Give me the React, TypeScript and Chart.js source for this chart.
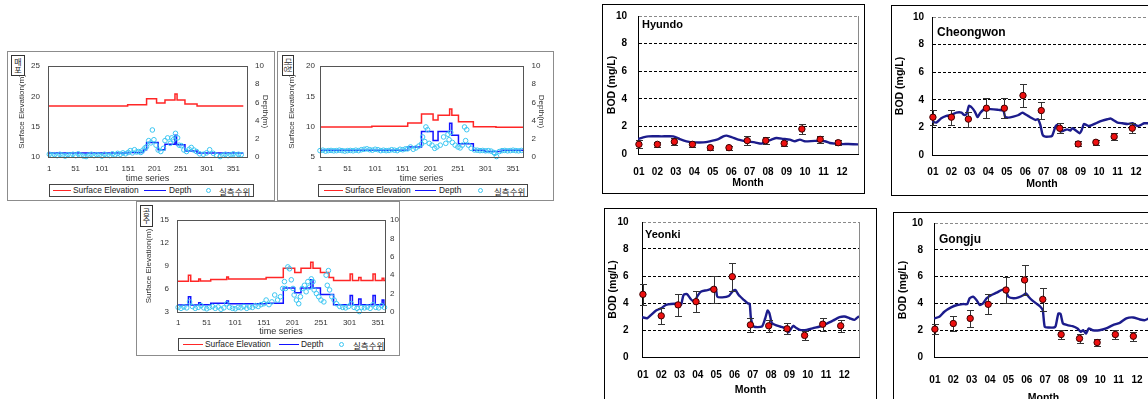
import React, { useEffect, useRef } from "react";
import { Chart, registerables } from "chart.js";

Chart.register(...registerables);

const FONT = "'Liberation Sans', Arial, Helvetica, sans-serif";
const KFONT = "'Noto Sans CJK KR', 'Liberation Sans', sans-serif";
Chart.defaults.font.family = FONT;
Chart.defaults.color = "#333";

/* ================= Hydrology panels (daily series) ================= */
const xTickDays = [1, 51, 101, 151, 201, 251, 301, 351];
const legendLabels = ["Surface Elevation", "Depth", "실측수위"];
const timeAxisTitle = "time series";
const elevAxisTitle = "Surface Elevation(m)";
const depthAxisTitle = "Depth(m)";

// 매포
const maepoElevDay = [0, 150, 186, 205, 221, 240, 244, 259, 282, 370];
const maepoElev = [18.4, 18.6, 19.6, 18.9, 19.4, 20.4, 19.4, 18.75, 18.4, 18.4];
const maepoDepthDay = [0, 150, 180, 186, 208, 221, 240, 243, 259, 282, 370];
const maepoDepth = [0.45, 0.5, 0.8, 1.6, 0.8, 1.4, 2.4, 1.35, 0.65, 0.45, 0.45];
const maepoObsDay = [
  1, 6, 11, 16, 21, 26, 31, 36, 41, 46, 51, 56, 61, 66, 71, 76, 81, 86, 91, 96, 101, 106, 111, 116, 121, 126, 131, 136, 141, 146,
  151, 155, 159, 163, 167, 171, 175, 179, 183,
  186, 190, 194, 197, 200, 204, 208, 213, 218, 221, 226, 231, 234, 237, 241, 245, 248, 252, 257, 262, 267, 271, 276, 281, 287, 294, 300, 306, 313, 319, 326,
  331, 336, 341, 346, 351, 356, 361, 366,
];
const maepoObs = [
  0.3, 0.2, 0.25, 0.15, 0.3, 0.2, 0.1, 0.25, 0.2, 0.3, 0.15, 0.35, 0.2, 0.1, 0.05, 0.2, 0.3, 0.15, 0.25, 0.2, 0.1, 0.3, 0.2, 0.15, 0.35, 0.25, 0.4, 0.3, 0.45, 0.35,
  0.5, 0.7, 0.45, 0.8, 0.55, 0.6, 0.5, 0.75, 1.0,
  1.13, 1.8, 1.55, 2.97, 1.9, 1.3, 0.77, 0.6, 0.95, 1.8, 2.1, 1.5, 2.1, 1.9, 2.6, 2.1, 1.3, 1.25, 0.77, 0.6, 0.85, 1.05, 0.77, 0.6, 0.35, 0.3, 0.45, 0.8, 0.4, 0.2, 0.05,
  0.2, 0.3, 0.15, 0.25, 0.35, 0.2, 0.3, 0.25,
];

// 대청
const daecheongElevDay = [0, 95, 160, 185, 206, 215, 236, 240, 252, 279, 320, 370];
const daecheongElev = [9.95, 10.05, 10.6, 12.1, 11.1, 11.9, 12.9, 11.9, 10.8, 10.0, 9.9, 9.9];
const daecheongDepthDay = [0, 160, 185, 206, 215, 236, 240, 252, 279, 300, 330, 370];
const daecheongDepth = [0.75, 1.1, 2.8, 1.8, 2.8, 3.7, 2.4, 1.45, 0.75, 0.6, 0.75, 0.75];
const daecheongObsDay = [
  1, 6, 11, 16, 21, 26, 31, 36, 41, 46, 51, 56, 61, 66, 71, 76, 81, 86, 91, 96, 101, 106, 111, 116, 121, 126, 131, 136, 141, 146, 151, 156,
  160, 165, 170, 175, 180,
  185, 187, 191, 193, 196, 199, 204, 209, 213, 219, 225, 229, 233, 235, 238, 241, 246, 251, 255, 259, 263, 265, 267, 270, 275, 281,
  286, 291, 296, 301, 306, 311, 316, 318, 321, 326, 331, 336, 341, 346, 351, 356, 361, 366,
];
const daecheongObs = [
  0.7, 0.75, 0.65, 0.7, 0.72, 0.68, 0.7, 0.75, 0.7, 0.65, 0.7, 0.72, 0.68, 0.75, 0.7, 0.8, 0.85, 0.9, 0.8, 0.75, 0.85, 0.8, 0.7, 0.75, 0.7, 0.72, 0.8, 0.75, 0.7, 0.85, 0.8, 0.9,
  0.9, 1.1, 0.85, 1.0, 1.2,
  1.43, 2.2, 1.7, 3.3, 3.0, 1.5, 1.3, 0.95, 1.1, 1.3, 2.2, 1.5, 2.5, 1.9, 2.7, 1.6, 1.3, 1.1, 1.0, 1.3, 3.3, 1.8, 3.0, 1.3, 0.95, 0.77,
  0.75, 0.7, 0.72, 0.68, 0.7, 0.65, 0.5, 0.4, 0.05, 0.6, 0.7, 0.72, 0.68, 0.7, 0.75, 0.7, 0.68, 0.72,
];

// 공주
const gongjuElevDay = [0, 19, 23, 37, 40, 58, 86, 89, 155, 185, 205, 216, 233, 237, 250, 265, 273, 302, 306, 317, 321, 342, 346, 358, 361, 366];
const gongjuElev = [7.0, 7.8, 7.0, 7.3, 7.05, 7.25, 7.55, 7.3, 7.5, 8.7, 8.15, 8.7, 9.5, 8.7, 8.15, 7.5, 7.1, 7.95, 7.1, 7.5, 7.1, 7.95, 7.1, 7.4, 7.1, 7.1];
const gongjuDepthDay = [0, 19, 23, 37, 40, 58, 86, 89, 155, 185, 205, 216, 233, 237, 250, 273, 302, 306, 317, 321, 342, 346, 358, 361, 366];
const gongjuDepth = [0.75, 1.65, 0.75, 1.0, 0.8, 0.95, 1.2, 0.9, 0.95, 2.6, 2.1, 2.6, 3.5, 2.6, 1.9, 0.8, 1.8, 0.8, 1.4, 0.8, 1.8, 0.8, 1.3, 0.8, 0.8];
const gongjuObsDay = [
  1, 6, 11, 16, 21, 26, 31, 36, 41, 46, 51, 56, 61, 66, 71, 76, 81, 86, 91, 96, 101, 106, 111, 116, 121, 126, 131, 136, 141, 146,
  151, 155, 160, 165, 170, 175, 180,
  184, 187, 189, 193, 196, 199, 202, 204, 208, 212, 215, 218, 222, 225, 228, 231, 234, 237, 239, 243, 247, 251, 256, 260, 262, 264, 266, 270, 274, 278, 284,
  289, 294, 299, 304, 309, 314, 318, 322, 327, 332, 337, 342, 347, 352, 357, 362,
];
const gongjuObs = [
  0.5, 0.4, 0.55, 0.45, 1.1, 0.6, 0.4, 0.5, 0.7, 0.45, 0.35, 0.5, 0.6, 0.4, 0.55, 0.3, 0.45, 0.9, 0.5, 0.4, 0.35, 0.5, 0.45, 0.6, 0.4, 0.55, 0.5, 0.7, 0.6, 0.8,
  0.9, 1.3, 0.8, 1.1, 1.85, 1.3, 1.66,
  2.56, 3.3, 2.56, 4.9, 4.7, 3.5, 2.56, 1.85, 1.3, 0.9, 1.66, 2.56, 2.9, 2.2, 3.3, 2.7, 3.6, 3.3, 2.4, 2.0, 1.66, 1.3, 1.1, 4.0, 2.9, 4.5, 2.4, 1.66, 1.3, 0.9, 0.6,
  0.5, 0.45, 0.6, 0.9, 0.5, 0.4, 0.05, 0.5, 0.45, 0.55, 0.4, 0.8, 0.5, 0.45, 0.7, 0.5,
];

/* ================= BOD panels (monthly) ================= */
const monthLabels = ["01", "02", "03", "04", "05", "06", "07", "08", "09", "10", "11", "12"];
const monthTicks = [0, 1, 2, 3, 4, 5, 6, 7, 8, 9, 10, 11];
const sampleMonth = [0.0, 1.0, 1.92, 2.9, 3.87, 4.88, 5.87, 6.87, 7.87, 8.83, 9.82, 10.8];
const bodAxisTitle = "BOD (mg/L)";
const monthAxisTitle = "Month";

const hyundoObs = [0.7, 0.7, 0.89, 0.7, 0.46, 0.46, 0.97, 0.97, 0.77, 1.81, 1.06, 0.82];
const hyundoErr = [0.28, 0.18, 0.25, 0.2, 0.15, 0.15, 0.3, 0.27, 0.18, 0.36, 0.24, 0.2];
const hyundoModelX = [-0.05, 0.23, 0.51, 1.23, 1.86, 2.22, 2.58, 3.03, 3.48, 3.84, 4.3, 4.57, 4.75, 5.02, 5.38, 5.83, 6.28, 6.64, 6.91, 7.18, 7.45, 7.82, 8.18, 8.45, 8.72, 8.99, 9.53, 10.07, 10.34, 10.61, 10.97, 11.34, 11.88];
const hyundoModelY = [1.08, 1.2, 1.28, 1.28, 1.28, 1.08, 0.92, 0.84, 0.84, 0.92, 1.08, 1.28, 1.33, 1.23, 1.04, 0.92, 0.84, 0.75, 0.92, 1.04, 1.16, 1.1, 1.04, 0.92, 1.04, 0.92, 0.95, 0.92, 0.8, 0.75, 0.72, 0.72, 0.7];

const cheongwonObs = [2.74, 2.74, 2.6, 3.39, 3.39, 4.31, 3.22, 1.94, 0.8, 0.92, 1.33, 1.94];
const cheongwonErr = [0.55, 0.55, 0.55, 0.72, 0.72, 0.85, 0.63, 0.35, 0.18, 0.2, 0.24, 0.36];
const cheongwonModelX = [-0.05, 0.18, 0.45, 0.73, 1.0, 1.27, 1.55, 1.69, 1.82, 1.95, 2.09, 2.27, 2.42, 2.55, 2.73, 2.91, 3.55, 3.82, 3.91, 4.09, 4.36, 4.64, 4.85, 5.0, 5.27, 5.55, 5.69, 5.82, 5.95, 6.09, 6.27, 6.45, 6.64, 6.73, 6.91, 7.09, 7.27, 7.45, 7.55, 7.82, 7.95, 8.05, 8.18, 8.31, 8.45, 8.64, 8.91, 9.18, 9.45, 9.64, 9.76, 10.0, 10.27, 10.55, 10.82, 11.09, 11.27, 11.45, 11.76, 11.95];
const cheongwonModelY = [2.42, 2.35, 2.66, 2.83, 2.9, 3.07, 3.07, 2.9, 2.95, 3.56, 3.46, 3.15, 2.74, 3.03, 3.27, 3.34, 3.27, 3.22, 2.78, 2.71, 2.78, 2.9, 3.07, 2.95, 2.74, 2.54, 2.6, 2.18, 1.45, 1.33, 1.33, 1.38, 2.06, 2.18, 1.7, 1.77, 1.86, 1.77, 1.94, 1.7, 1.57, 1.77, 2.25, 2.18, 2.1, 2.18, 2.35, 2.49, 2.59, 2.64, 2.54, 2.35, 2.3, 2.25, 2.3, 2.1, 2.18, 2.3, 2.3, 2.3];

const yeonkiObs = [4.64, 3.05, 3.86, 4.1, 5.01, 5.95, 2.38, 2.31, 2.09, 1.6, 2.43, 2.31];
const yeonkiErr = [0.8, 0.57, 0.8, 0.8, 1.0, 1.05, 0.5, 0.45, 0.42, 0.32, 0.47, 0.45];
const yeonkiModelX = [-0.05, 0.23, 0.45, 0.72, 0.99, 1.26, 1.53, 1.9, 2.08, 2.22, 2.4, 2.62, 2.8, 2.98, 3.16, 3.52, 3.79, 3.97, 4.06, 4.33, 4.69, 4.93, 5.05, 5.23, 5.51, 5.72, 5.83, 5.9, 6.05, 6.5, 6.68, 6.81, 6.91, 7.04, 7.22, 7.49, 7.76, 7.94, 8.07, 8.21, 8.39, 8.57, 8.94, 9.3, 9.66, 10.02, 10.38, 10.74, 11.01, 11.28, 11.55, 11.73, 11.88];
const yeonkiModelY = [2.95, 2.87, 3.12, 3.44, 3.61, 3.86, 3.93, 3.93, 3.86, 4.6, 4.67, 4.28, 4.1, 4.52, 4.84, 4.96, 5.09, 5.16, 4.47, 4.42, 4.52, 4.91, 4.96, 4.59, 4.23, 3.98, 3.93, 2.87, 2.26, 2.26, 2.87, 3.44, 3.24, 2.51, 2.38, 2.26, 2.14, 1.82, 2.06, 2.31, 2.14, 2.01, 2.01, 2.14, 2.26, 2.46, 2.7, 2.95, 3.0, 2.87, 2.75, 2.95, 3.0];

const gongjuBodObs = [2.08, 2.5, 2.88, 3.93, 5.0, 5.75, 4.3, 1.68, 1.38, 1.08, 1.68, 1.55];
const gongjuBodErr = [0.38, 0.55, 0.62, 0.75, 1.0, 1.12, 0.85, 0.35, 0.3, 0.24, 0.35, 0.33];
const gongjuModelX = [-0.05, 0.24, 0.51, 0.88, 1.21, 1.52, 1.76, 1.89, 2.07, 2.26, 2.44, 2.62, 2.81, 3.08, 3.36, 3.63, 3.82, 4.0, 4.28, 4.55, 4.83, 4.95, 5.1, 5.28, 5.56, 5.74, 5.87, 5.98, 6.2, 6.48, 6.57, 6.72, 6.84, 6.97, 7.21, 7.49, 7.76, 7.94, 8.07, 8.22, 8.37, 8.59, 8.95, 9.32, 9.69, 10.06, 10.42, 10.79, 11.16, 11.43, 11.74, 11.95];
const gongjuModelY = [2.88, 3.0, 3.38, 3.7, 3.88, 3.95, 3.95, 4.38, 4.5, 4.25, 3.88, 4.0, 4.38, 4.63, 4.8, 5.0, 5.05, 4.5, 4.38, 4.45, 4.63, 4.75, 4.5, 4.25, 3.95, 3.75, 3.5, 2.25, 2.2, 2.2, 2.3, 3.25, 3.2, 2.5, 2.38, 2.3, 2.13, 1.88, 2.0, 1.75, 2.13, 2.0, 2.0, 2.13, 2.38, 2.55, 2.88, 2.95, 2.8, 2.75, 2.95, 2.95];

/* ================= helpers ================= */
const zip = (xs: number[], ys: number[]) => xs.map((x, i) => ({ x, y: ys[i] }));

const framePlugin = {
  id: "frameBox",
  afterDatasetsDraw(chart: any) {
    const { ctx, chartArea: a } = chart;
    ctx.save();
    ctx.strokeStyle = "#555";
    ctx.lineWidth = 1;
    ctx.strokeRect(Math.round(a.left) + 0.5, Math.round(a.top) + 0.5, Math.round(a.right - a.left), Math.round(a.bottom - a.top));
    ctx.restore();
  },
};

const rightEdgePlugin = {
  id: "rightEdge",
  afterDraw(chart: any) {
    const { ctx, chartArea: a } = chart;
    ctx.save();
    ctx.strokeStyle = "#8a8a8a";
    ctx.lineWidth = 1;
    const x = Math.round(a.right) + 0.5;
    ctx.beginPath();
    ctx.moveTo(x, a.top);
    ctx.lineTo(x, a.bottom);
    ctx.stroke();
    ctx.restore();
  },
};

function makeErrorBars(xs: number[], ys: number[], errs: number[]) {
  return {
    id: "errorBars",
    afterDatasetDraw(chart: any, args: any) {
      if (args.index !== 1) return;
      const sx = chart.scales.x;
      const sy = chart.scales.y;
      const ctx = chart.ctx;
      ctx.save();
      ctx.strokeStyle = "#333";
      ctx.lineWidth = 1;
      ctx.beginPath();
      for (let i = 0; i < xs.length; i++) {
        const px = Math.round(sx.getPixelForValue(xs[i])) + 0.5;
        const t = Math.round(sy.getPixelForValue(ys[i] + errs[i])) + 0.5;
        const b = Math.round(sy.getPixelForValue(ys[i] - errs[i])) + 0.5;
        ctx.moveTo(px, t);
        ctx.lineTo(px, b);
        ctx.moveTo(px - 3.5, t);
        ctx.lineTo(px + 3.5, t);
        ctx.moveTo(px - 3.5, b);
        ctx.lineTo(px + 3.5, b);
      }
      ctx.stroke();
      ctx.restore();
    },
  };
}

// fix an axis box size and drop Chart.js' label-overhang padding so the plot area is exact
const fixW = (w: number) => (s: any) => { s.width = w; s.paddingTop = 0; s.paddingBottom = 0; };
const fixH = (h: number) => (s: any) => { s.height = h; s.paddingLeft = 0; s.paddingRight = 0; };

function ChartCanvas({ box, make }: any) {
  const ref = useRef<HTMLCanvasElement>(null);
  useEffect(() => {
    const c = new Chart(ref.current as HTMLCanvasElement, make());
    return () => c.destroy();
  }, []);
  return (
    <canvas
      ref={ref}
      width={box.w}
      height={box.h}
      style={{ position: "absolute", left: box.l, top: box.t, width: box.w, height: box.h }}
    />
  );
}

/* ================= hydrology panel ================= */
const hydroPanels = [
  {
    key: "maepo", name: "매포", rotateName: false,
    border: { l: 7, t: 51, w: 268, h: 150 },
    canvas: { l: 9, t: 52, w: 265, h: 147 },
    padTop: 14, yW: 39, y1W: 27, xH: 42, xMin: -1.5, xMax: 377,
    yMin: 10, yMax: 25, yStep: 5,
    yTickPad: 8, y1TickPad: 8, xTickPad: 7, xTitlePad: 15.5, yTitlePad: 7.5, y1TitlePad: 4, showY1Title: true,
    nameBox: { l: 11, t: 55, w: 14, h: 21 },
    legend: { l: 49, t: 184, w: 205, h: 13, r: [3, 21], t0: 23, b: [94, 116], t1: 119, c: 158, t2: 169 },
    elevDay: maepoElevDay, elev: maepoElev, depthDay: maepoDepthDay, depth: maepoDepth, obsDay: maepoObsDay, obs: maepoObs,
  },
  {
    key: "daecheong", name: "대청", rotateName: true,
    border: { l: 277, t: 51, w: 277, h: 150 },
    canvas: { l: 278, t: 52, w: 275, h: 147 },
    padTop: 14, yW: 42, y1W: 30, xH: 42, xMin: 1, xMax: 369,
    yMin: 5, yMax: 20, yStep: 5,
    yTickPad: 5, y1TickPad: 8.5, xTickPad: 6.5, xTitlePad: 15.3, yTitlePad: 8.7, y1TitlePad: 6.5, showY1Title: true,
    nameBox: { l: 282, t: 55, w: 12, h: 21 },
    legend: { l: 318, t: 184, w: 210, h: 13, r: [5, 24], t0: 26, b: [96, 117], t1: 120, c: 161, t2: 175 },
    elevDay: daecheongElevDay, elev: daecheongElev, depthDay: daecheongDepthDay, depth: daecheongDepth, obsDay: daecheongObsDay, obs: daecheongObs,
  },
  {
    key: "gongju", name: "공주", rotateName: false,
    border: { l: 136, t: 201, w: 264, h: 155 },
    canvas: { l: 137, t: 202, w: 262, h: 152 },
    padTop: 18, yW: 40, y1W: 14, xH: 42, xMin: -1, xMax: 363,
    yMin: 3, yMax: 15, yStep: 3,
    yTickPad: 8, y1TickPad: 5, xTickPad: 6, xTitlePad: 17, yTitlePad: 6.7, y1TitlePad: 0, showY1Title: false,
    nameBox: { l: 140, t: 205, w: 13, h: 22 },
    legend: { l: 178, t: 338, w: 207, h: 13, r: [4, 24], t0: 26, b: [100, 120], t1: 122, c: 162, t2: 174 },
    elevDay: gongjuElevDay, elev: gongjuElev, depthDay: gongjuDepthDay, depth: gongjuDepth, obsDay: gongjuObsDay, obs: gongjuObs,
  },
];

function hydroConfig(p: any) {
  const tickFont = { size: 8, family: FONT };
  return {
    type: "line",
    data: {
      datasets: [
        {
          label: legendLabels[2], data: zip(p.obsDay, p.obs), yAxisID: "y1", showLine: false,
          pointRadius: 2.3, pointBorderWidth: 1, pointBorderColor: "#3cc6f2", pointBackgroundColor: "rgba(255,255,255,0)",
          borderColor: "#3cc6f2", order: 0, clip: false,
        },
        {
          label: legendLabels[1], data: zip(p.depthDay, p.depth), yAxisID: "y1", stepped: "before",
          borderColor: "#1212ff", borderWidth: 1.5, pointRadius: 0, order: 1,
        },
        {
          label: legendLabels[0], data: zip(p.elevDay, p.elev), yAxisID: "y", stepped: "before",
          borderColor: "#ff2626", borderWidth: 1.5, pointRadius: 0, order: 2,
        },
      ],
    },
    options: {
      responsive: false, animation: false, devicePixelRatio: 1,
      layout: { padding: { top: p.padTop, left: 0, right: 0, bottom: 0 } },
      plugins: { legend: { display: false }, tooltip: { enabled: false } },
      scales: {
        x: {
          type: "linear", min: p.xMin, max: p.xMax,
          afterBuildTicks: (s: any) => { s.ticks = xTickDays.map((v) => ({ value: v })); },
          afterFit: fixH(p.xH),
          ticks: { autoSkip: false, maxRotation: 0, padding: p.xTickPad, color: "#333", font: tickFont },
          grid: { display: false, drawTicks: false },
          border: { display: false },
          title: { display: true, text: timeAxisTitle, color: "#333", font: { size: 9, family: FONT }, padding: { top: 0, bottom: p.xTitlePad } },
        },
        y: {
          type: "linear", position: "left", min: p.yMin, max: p.yMax,
          ticks: { stepSize: p.yStep, padding: p.yTickPad, color: "#333", font: tickFont },
          afterFit: fixW(p.yW),
          grid: { display: false, drawTicks: false },
          border: { display: false },
          title: { display: true, text: elevAxisTitle, color: "#333", font: { size: 8, family: FONT }, padding: { top: p.yTitlePad, bottom: 0 } },
        },
        y1: {
          type: "linear", position: "right", min: 0, max: 10,
          ticks: { stepSize: 2, padding: p.y1TickPad, color: "#333", font: tickFont },
          afterFit: fixW(p.y1W),
          grid: { display: false, drawTicks: false },
          border: { display: false },
          title: { display: p.showY1Title, text: depthAxisTitle, color: "#333", font: { size: 8, family: FONT }, padding: { top: p.y1TitlePad, bottom: 0 } },
        },
      },
    },
    plugins: [framePlugin],
  };
}

function HydroLegend({ lg }: any) {
  const inner = lg.h - 2;
  const txt: any = { position: "absolute", top: 0, height: inner, lineHeight: inner + "px", whiteSpace: "nowrap" };
  const line = (l: number, r: number, color: string): any => ({
    position: "absolute", left: l, width: r - l, top: Math.round(inner / 2) - 1, height: 0, borderTop: `1.5px solid ${color}`,
  });
  return (
    <div style={{ position: "absolute", left: lg.l, top: lg.t, width: lg.w, height: lg.h, border: "1px solid #444", boxSizing: "border-box", background: "#fff", font: `8.4px ${FONT}`, color: "#222" }}>
      <div style={line(lg.r[0], lg.r[1], "#ff2626")} />
      <span style={{ ...txt, left: lg.t0 }}>{legendLabels[0]}</span>
      <div style={line(lg.b[0], lg.b[1], "#1212ff")} />
      <span style={{ ...txt, left: lg.t1 }}>{legendLabels[1]}</span>
      <div style={{ position: "absolute", left: lg.c - 2.5, top: inner / 2 - 3, width: 5, height: 5, borderRadius: "50%", border: "1px solid #3cc6f2", boxSizing: "border-box" }} />
      <span style={{ ...txt, left: lg.t2, font: `8.5px ${KFONT}` }}>{legendLabels[2]}</span>
    </div>
  );
}

function HydroPanel({ p }: any) {
  const nb = p.nameBox;
  return (
    <>
      <div style={{ position: "absolute", left: p.border.l, top: p.border.t, width: p.border.w, height: p.border.h, border: "1px solid #8c8c8c", boxSizing: "border-box" }} />
      <ChartCanvas box={p.canvas} make={() => hydroConfig(p)} />
      <div style={{ position: "absolute", left: nb.l, top: nb.t, width: nb.w, height: nb.h, border: "1px solid #333", boxSizing: "border-box", background: "#fff", display: "flex", alignItems: "center", justifyContent: "center", overflow: "hidden" }}>
        <span style={{ font: `8px/9px ${KFONT}`, color: "#222", writingMode: "vertical-rl", textOrientation: p.rotateName ? "sideways" : "upright", whiteSpace: "nowrap" } as any}>
          {p.name}
        </span>
      </div>
      <HydroLegend lg={p.legend} />
    </>
  );
}

/* ================= BOD panel ================= */
const bodPanels = [
  {
    key: "hyundo", title: "Hyundo", titleSize: 11, titlePos: { l: 642, t: 18 },
    border: { l: 602, t: 4, w: 263, h: 190 },
    canvas: { l: 603, t: 5, w: 261, h: 188 },
    padTop: 11, padRight: 6, yW: 35, xH: 39, xMax: 11.87,
    yTickPad: 11, xTickPad: 12.3, xTitlePad: 3.4, yTitlePad: 2.4,
    obs: hyundoObs, err: hyundoErr, modelX: hyundoModelX, modelY: hyundoModelY,
  },
  {
    key: "cheongwon", title: "Cheongwon", titleSize: 12, titlePos: { l: 937, t: 26 },
    border: { l: 891, t: 5, w: 270, h: 191 },
    canvas: { l: 892, t: 6, w: 268, h: 189 },
    padTop: 11, padRight: 8, yW: 40, xH: 40, xMax: 11.87,
    yTickPad: 8, xTickPad: 11.3, xTitlePad: 4.4, yTitlePad: 1.7,
    obs: cheongwonObs, err: cheongwonErr, modelX: cheongwonModelX, modelY: cheongwonModelY,
  },
  {
    key: "yeonki", title: "Yeonki", titleSize: 11, titlePos: { l: 645, t: 228 },
    border: { l: 604, t: 208, w: 273, h: 200 },
    canvas: { l: 605, t: 209, w: 270, h: 190 },
    padTop: 13, padRight: 16, yW: 37, xH: 42, xMax: 11.8,
    yTickPad: 13.5, xTickPad: 12, xTitlePad: 2.7, yTitlePad: 2,
    obs: yeonkiObs, err: yeonkiErr, modelX: yeonkiModelX, modelY: yeonkiModelY,
  },
  {
    key: "gongjuBod", title: "Gongju", titleSize: 12, titlePos: { l: 939, t: 233 },
    border: { l: 893, t: 212, w: 270, h: 200 },
    canvas: { l: 894, t: 213, w: 268, h: 200 },
    padTop: 10, padRight: 9, yW: 40, xH: 56, xMax: 11.87,
    yTickPad: 11, xTickPad: 17, xTitlePad: 8.7, yTitlePad: 3,
    obs: gongjuBodObs, err: gongjuBodErr, modelX: gongjuModelX, modelY: gongjuModelY,
  },
];

function bodConfig(p: any) {
  const tickFont = { size: 10, weight: "bold", family: FONT };
  const titleFont = { size: 10.5, weight: "bold", family: FONT };
  return {
    type: "line",
    data: {
      datasets: [
        {
          label: "Observed", data: zip(sampleMonth, p.obs), showLine: false,
          pointRadius: 3.2, pointBackgroundColor: "#ee1010", pointBorderColor: "#3a0000", pointBorderWidth: 1,
          order: 1, clip: false,
        },
        {
          label: "Model", data: zip(p.modelX, p.modelY), borderColor: "#1c1c8c", borderWidth: 2.4,
          pointRadius: 0, tension: 0.2, order: 2,
        },
      ],
    },
    options: {
      responsive: false, animation: false, devicePixelRatio: 1,
      layout: { padding: { top: p.padTop, right: p.padRight, left: 0, bottom: 0 } },
      plugins: { legend: { display: false }, tooltip: { enabled: false } },
      scales: {
        x: {
          type: "linear", min: -0.05, max: p.xMax,
          afterBuildTicks: (s: any) => { s.ticks = monthTicks.map((v) => ({ value: v })); },
          afterFit: fixH(p.xH),
          ticks: { autoSkip: false, maxRotation: 0, padding: p.xTickPad, color: "#000", font: tickFont, callback: (_v: any, i: number) => monthLabels[i] },
          grid: { display: false, drawTicks: false },
          border: { display: true, color: "#000", width: 1 },
          title: { display: true, text: monthAxisTitle, color: "#000", font: titleFont, padding: { top: 0, bottom: p.xTitlePad } },
        },
        y: {
          type: "linear", min: 0, max: 10,
          ticks: { stepSize: 2, padding: p.yTickPad, color: "#000", font: tickFont },
          afterFit: fixW(p.yW),
          grid: {
            drawTicks: false, lineWidth: 1,
            color: (c: any) => {
              const v = c.tick ? c.tick.value : -1;
              if (v === 0) return "rgba(0,0,0,0)";
              if (v === 10) return "#8a8a8a";
              return "#000";
            },
          },
          border: { display: true, color: "#000", width: 1, dash: [3, 2] },
          title: { display: true, text: bodAxisTitle, color: "#000", font: titleFont, padding: { top: p.yTitlePad, bottom: 0 } },
        },
      },
    },
    plugins: [rightEdgePlugin, makeErrorBars(sampleMonth, p.obs, p.err)],
  };
}

function BodPanel({ p }: any) {
  return (
    <>
      <div style={{ position: "absolute", left: p.border.l, top: p.border.t, width: p.border.w, height: p.border.h, border: "1px solid #000", boxSizing: "border-box" }} />
      <ChartCanvas box={p.canvas} make={() => bodConfig(p)} />
      <div style={{ position: "absolute", left: p.titlePos.l, top: p.titlePos.t, font: `bold ${p.titleSize}px ${FONT}`, color: "#000", whiteSpace: "nowrap", lineHeight: "13px" }}>
        {p.title}
      </div>
    </>
  );
}

export default function App() {
  return (
    <div style={{ position: "fixed", left: 0, top: 0, width: 1148, height: 399, overflow: "hidden", background: "#fff" }}>
      {hydroPanels.map((p) => <HydroPanel key={p.key} p={p} />)}
      {bodPanels.map((p) => <BodPanel key={p.key} p={p} />)}
    </div>
  );
}
